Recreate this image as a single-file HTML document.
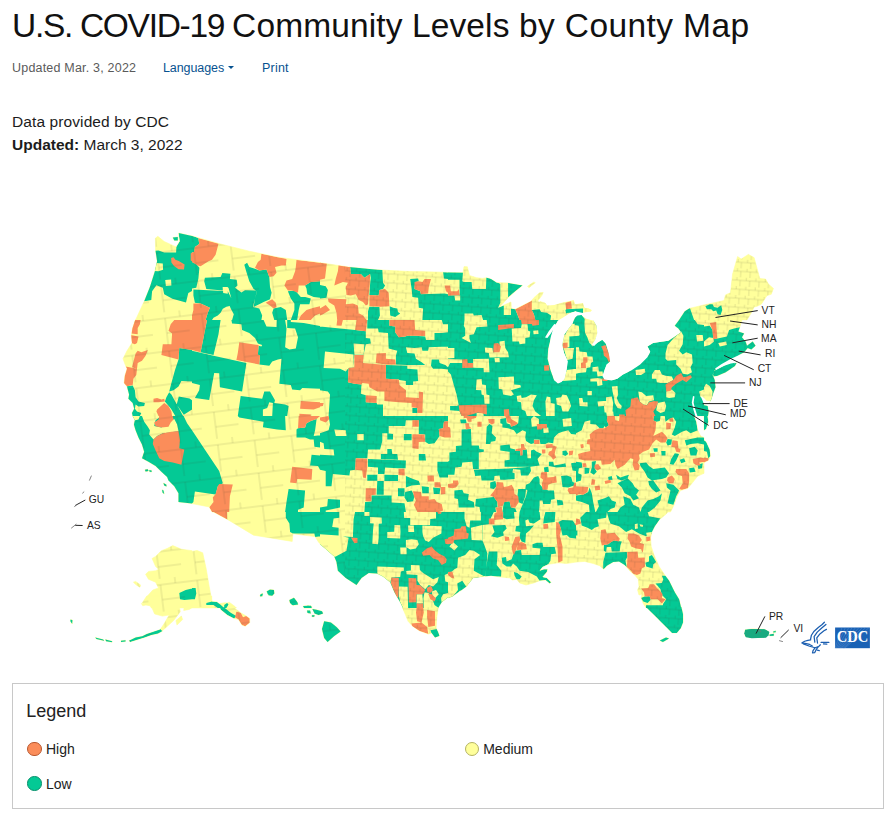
<!DOCTYPE html>
<html lang="en"><head><meta charset="utf-8"><title>U.S. COVID-19 Community Levels by County Map</title>
<style>
html,body{margin:0;padding:0;background:#fff;}
body{width:894px;height:814px;position:relative;overflow:hidden;font-family:"Liberation Sans",sans-serif;color:#1a1a1a;}
.abs{position:absolute;white-space:nowrap;}
h1{margin:0;font-weight:400;font-size:33.5px;line-height:40px;left:12px;top:6px;color:#111;}
.meta{font-size:12.5px;line-height:16px;top:60px;}
.meta.g{color:#5a5a5a;left:12px;letter-spacing:.2px}
.meta.b{color:#075290;letter-spacing:.2px}
.caret{position:absolute;left:228px;top:66px;width:0;height:0;border-left:3px solid transparent;border-right:3px solid transparent;border-top:3.5px solid #075290;}
.p{font-size:15.5px;line-height:23px;left:12px;color:#1c1c1c;letter-spacing:.1px}
.legend{position:absolute;left:12px;top:683px;width:870px;height:124px;border:1px solid #c8c8c8;background:#fff;}
.legend .t{position:absolute;left:13.3px;top:15.6px;font-size:18px;line-height:22px;color:#222;}
.li{position:absolute;font-size:14px;line-height:16px;color:#222;white-space:nowrap}
.dot{position:absolute;width:12.6px;height:12.6px;border-radius:50%;border:1px solid;}
</style></head><body>
<h1 class="abs"><span style="letter-spacing:-1.3px">U.S. COVID-19 </span><span style="letter-spacing:.12px">Community Levels </span><span style="letter-spacing:.4px">by County Map</span></h1>
<div class="abs meta g">Updated Mar. 3, 2022</div>
<div class="abs meta b" style="left:163px;letter-spacing:-.08px">Languages</div><i class="caret"></i>
<div class="abs meta b" style="left:262px">Print</div>
<div class="abs p" style="top:110px">Data provided by CDC</div>
<div class="abs p" style="top:132.6px;letter-spacing:0"><b>Updated:</b> March 3, 2022</div>
<svg class="abs" style="left:0;top:0" width="894" height="680" viewBox="0 0 894 680">
<defs><clipPath id="land"><path d="M192.0,319.9L135.6,319.9L144.2,301.3L149.9,287.0L154.9,271.3L157.1,261.2L155.6,251.2L155.4,238.3L157.8,236.3L164.2,241.5L176.1,246.9L177.1,245.5L179.7,241.2L178.5,233.0L192.0,236.0ZM172.8,237.6L177.8,236.9L177.8,240.5L174.3,240.5ZM192.0,320.0L192.0,415.9L132.7,415.9L132.0,413.1L134.2,408.8L132.7,403.0L128.4,398.8L129.1,394.5L127.0,386.6L124.1,383.0L124.9,375.8L127.0,368.7L125.6,365.8L123.0,358.7L127.0,350.8L132.0,342.9L131.3,335.8L132.4,328.6L135.2,320.0ZM192.0,416.0L192.0,503.6L178.5,501.9L178.5,493.3L174.3,486.2L168.5,480.4L167.1,476.9L161.4,471.8L155.6,466.1L148.5,461.8L142.0,458.2L144.2,451.8L142.0,444.6L138.5,437.5L135.6,430.3L133.9,424.6L134.9,420.3L132.7,416.0ZM144.9,469.7L147.8,469.3L148.5,471.1L145.6,471.6ZM149.2,470.1L151.6,470.4L151.6,472.1L149.6,471.8ZM163.5,483.0L166.4,484.7L166.4,486.4L164.2,485.4ZM162.1,489.7L163.5,490.5L164.2,494.0L162.5,492.6ZM192.0,607.9L151.3,607.9L148.5,602.2L147.0,596.5L152.8,590.0L158.5,587.9L155.6,582.2L148.5,579.3L145.6,574.3L148.5,571.4L155.6,570.7L158.5,569.3L155.6,566.4L152.1,558.5L155.6,556.4L161.4,550.7L167.1,548.5L172.8,545.6L181.4,549.2L192.0,550.7ZM133.4,582.2L135.6,581.4L140.6,585.0L139.9,587.2L136.3,585.0ZM141.3,603.6L144.9,602.5L145.6,605.1L142.8,605.8ZM146.8,596.0L211.7,596.0L211.7,602.7L206.1,603.8L198.2,606.1L196.0,604.9L189.3,609.4L183.7,610.5L184.8,602.7L179.2,606.1L180.3,611.7L173.6,620.6L162.4,630.7L160.2,629.6L164.7,622.8L169.1,615.0L162.4,616.1L154.6,613.9L151.2,606.1L145.7,604.9L142.3,602.7ZM218.4,603.8L225.1,602.7L229.5,603.8L236.3,609.4L240.7,612.8L246.3,616.1L249.7,618.4L249.7,622.8L245.2,626.2L241.9,625.1L238.5,619.5L234.0,618.4L227.3,615.0L220.6,609.4ZM162.4,631.1L158.0,633.6L151.2,635.1L144.5,637.4L137.8,639.6L130.0,641.9L128.9,640.7L135.6,637.4L142.3,636.3L146.8,634.0L153.5,631.8L160.2,629.6ZM95.3,637.4L103.1,639.6L104.3,640.7L96.4,639.0ZM105.4,639.6L112.1,641.2L112.1,642.3L106.1,641.2ZM121.0,640.7L125.5,640.3L125.5,641.6L121.0,641.9ZM70.7,619.5L72.5,620.2L72.1,624.0L70.3,621.1ZM175.9,620.6L181.4,616.1L182.6,619.5L177.0,625.1ZM192.0,236.0L220.6,244.0L249.3,251.2L277.9,257.2L306.5,260.9L320.0,262.7L320.0,319.9L192.0,319.9ZM192.0,320.0L320.0,320.0L320.0,415.9L192.0,415.9ZM192.0,416.0L320.0,416.0L320.0,511.9L212.0,511.9L209.2,506.9L192.0,503.6ZM320.0,512.0L320.0,543.2L318.7,542.4L315.1,536.6L292.9,533.8L292.2,541.4L253.6,535.2L227.1,519.2L213.5,512.0ZM192.0,551.4L197.0,550.4L202.7,552.8L206.3,569.3L209.2,586.5L212.0,601.5L217.1,601.9L220.6,604.8L224.2,607.9L192.0,607.9ZM225.6,603.6L229.2,602.2L235.0,606.5L236.4,607.9L224.9,607.9ZM260.0,595.0L262.2,593.6L262.9,594.8L260.7,596.5ZM266.7,591.5L270.0,589.6L273.9,590.0L274.3,593.6L272.2,595.8L268.6,595.3ZM289.4,600.1L293.7,597.9L295.8,601.5L298.0,604.4L292.2,605.1L290.1,602.9ZM303.7,606.5L308.0,605.8L311.6,606.5L311.6,607.9L303.7,607.9ZM260.5,594.5L262.7,593.4L262.3,596.3L260.0,596.3ZM267.2,591.1L270.5,590.0L273.9,591.1L273.4,594.5L270.5,595.6L267.6,594.0ZM289.6,600.1L294.0,597.8L297.4,602.3L298.1,604.5L292.9,605.2L290.0,602.3ZM303.0,606.1L310.8,605.7L311.9,607.9L304.1,607.9ZM307.0,610.6L310.1,610.6L310.8,613.5L307.5,613.0ZM312.4,609.0L316.4,609.7L322.0,611.3L323.1,613.5L318.6,615.1L314.6,613.5ZM311.9,615.3L314.6,615.3L314.2,616.8L311.9,616.8ZM324.2,621.3L330.9,622.4L336.5,626.9L340.6,631.4L334.3,635.9L327.6,641.9L324.2,638.1L322.0,629.1ZM438.3,607.9L436.8,616.8L436.1,628.0L438.3,632.5L439.4,635.9L435.0,637.4L431.6,633.0L428.3,634.1L419.3,630.7L412.6,626.2L408.1,621.3L405.4,614.6L402.5,607.9ZM320.0,262.7L348.6,267.0L377.3,269.8L405.9,271.3L434.5,272.0L448.0,272.4L448.0,319.9L320.0,319.9ZM320.0,320.0L448.0,320.0L448.0,415.9L320.0,415.9ZM320.0,416.0L448.0,416.0L448.0,511.9L320.0,511.9ZM320.0,512.0L448.0,512.0L448.0,597.2L441.7,602.2L438.1,607.9L403.0,607.9L400.2,602.2L394.5,592.2L390.2,582.2L383.0,576.4L377.3,573.6L368.7,572.9L361.5,577.9L356.5,585.0L345.8,577.9L337.9,570.7L336.5,562.1L334.3,556.4L324.3,547.8L320.0,544.2ZM448.0,272.4L463.0,272.7L464.0,266.7L467.3,266.7L469.5,275.5L476.6,277.7L482.4,278.4L486.7,277.7L491.0,279.1L496.7,282.7L508.1,283.0L522.5,285.6L515.3,291.3L508.1,297.7L501.0,305.6L498.1,307.8L505.3,304.5L511.0,302.0L511.3,308.5L515.3,309.2L522.5,305.6L531.0,301.3L533.9,297.7L539.6,292.7L543.2,292.4L541.8,295.6L537.5,301.3L539.6,302.0L546.8,302.8L551.1,307.0L556.8,306.3L562.5,303.5L571.1,301.3L574.0,300.6L576.0,302.0L576.0,309.9L569.7,312.1L568.3,315.6L569.7,319.9L562.5,319.9L561.1,316.4L556.8,317.8L555.4,319.9L448.0,319.9ZM527.5,286.3L533.9,282.0L535.3,282.7L528.9,287.7ZM448.0,320.0L552.5,320.0L548.2,330.0L545.1,336.0L546.8,337.5L551.8,329.3L554.7,325.0L551.1,337.2L548.2,348.6L547.5,358.7L550.4,370.1L554.0,380.1L558.3,383.3L564.0,380.1L566.8,370.1L567.1,360.1L563.7,348.6L562.5,341.5L565.4,334.3L569.7,327.2L574.0,324.3L576.0,323.2L576.0,415.9L448.0,415.9ZM448.0,416.0L576.0,416.0L576.0,511.9L448.0,511.9ZM448.0,512.0L576.0,512.0L576.0,562.1L566.8,563.5L558.3,562.8L548.2,564.3L542.5,567.1L539.6,570.7L543.9,569.3L547.5,569.3L546.8,572.1L542.5,577.1L546.8,577.9L551.1,582.2L549.7,583.6L545.4,580.0L539.6,580.7L533.9,582.9L526.0,585.0L519.6,582.9L516.7,579.3L512.4,580.0L509.6,577.9L501.0,577.1L491.0,575.7L483.8,576.4L473.1,577.9L470.9,580.7L466.6,586.5L459.5,591.5L452.3,596.5L448.0,597.9ZM576.0,304.9L583.2,303.0L584.6,308.5L591.0,309.2L591.5,311.3L586.0,311.6L581.7,313.5L582.4,317.1L589.6,319.9L576.0,319.9ZM679.1,319.9L684.8,311.3L689.1,308.5L704.0,304.9L704.0,319.9ZM576.0,320.0L593.2,320.0L596.8,327.2L597.5,334.3L594.6,341.5L592.5,345.8L597.5,342.9L602.5,340.0L605.4,342.9L608.2,351.5L610.4,358.7L608.9,363.0L606.8,364.4L604.6,370.1L603.2,375.8L606.8,378.0L613.2,380.1L621.8,377.3L630.4,370.1L637.6,365.8L644.7,358.7L650.5,352.9L647.6,346.5L653.3,342.9L661.9,341.5L667.6,341.5L676.2,335.8L681.2,332.2L678.4,328.6L674.8,325.7L679.1,320.0L704.0,320.0L704.0,415.9L576.0,415.9ZM576.0,416.0L694.1,416.0L696.3,421.7L697.7,430.3L700.6,436.0L704.0,437.5L704.0,473.3L697.7,476.1L692.0,483.3L687.7,488.3L680.5,490.5L676.9,496.2L674.1,504.8L670.5,511.9L576.0,511.9ZM576.0,512.0L667.6,512.0L666.2,514.1L659.8,519.2L654.8,526.3L651.9,532.0L650.5,537.8L651.2,546.4L654.0,555.0L659.0,566.4L664.8,575.0L669.1,580.7L674.8,592.2L679.1,599.3L681.2,607.9L646.2,607.9L643.3,603.6L641.1,597.9L641.9,594.3L639.0,595.0L637.6,590.0L639.0,586.5L638.3,579.3L634.7,575.0L630.4,571.4L624.7,565.0L619.0,561.4L613.2,562.1L606.8,565.7L603.9,569.3L599.6,565.7L593.2,563.5L584.6,561.4L576.0,562.1ZM681.3,606.9L683.1,614.5L683.1,622.2L680.7,628.3L676.7,632.9L672.1,632.9L667.5,628.3L661.4,622.2L656.8,617.6L650.6,611.5L646.0,606.9ZM659.8,640.6L666.0,637.5L669.0,638.4L662.9,642.1ZM745.0,629.8L751.8,628.9L764.0,629.2L768.6,631.4L767.7,635.4L762.5,637.5L750.2,637.5L745.0,636.0ZM769.6,634.4L773.8,633.8L773.8,635.7L769.6,636.0ZM773.2,631.4L775.7,630.8L775.7,632.3L773.2,632.6ZM704.0,304.9L724.0,300.6L725.5,294.9L730.5,292.7L732.6,274.1L737.6,256.6L741.2,259.1L748.4,254.4L754.1,257.6L759.8,278.4L765.6,279.1L768.4,284.1L773.4,288.4L771.3,294.2L767.0,295.6L764.1,299.9L761.3,304.2L757.0,306.3L754.1,307.0L751.3,312.8L747.0,319.9L704.0,319.9ZM704.0,320.0L741.9,320.0L739.8,327.2L738.4,331.5L744.1,333.6L741.9,337.2L745.5,341.5L747.0,345.8L752.7,341.5L755.5,345.8L751.3,349.4L747.7,347.9L744.1,352.2L739.8,354.4L736.2,357.9L731.2,361.5L725.5,364.4L718.3,368.0L714.7,370.1L712.6,375.1L714.7,380.1L715.5,387.3L713.3,393.0L711.2,399.5L709.0,403.0L704.0,402.8ZM716.2,369.4L729.8,363.0L735.8,361.1L732.6,366.1L725.5,371.1L718.3,374.0L712.9,375.1L714.0,371.5ZM704.0,405.2L707.6,405.9L708.6,411.6L708.0,415.9L704.0,415.9ZM704.0,416.0L707.6,416.0L708.3,421.7L706.1,428.9L704.0,430.3ZM704.0,440.3L706.1,441.8L709.7,449.6L710.4,456.1L708.3,460.4L704.0,462.5ZM540.0,301.5L545.7,303.6L547.2,305.8L554.3,305.0L561.5,302.9L573.6,300.3L575.1,304.3L583.0,303.2L584.4,307.9L588.7,308.6L591.8,310.0L590.8,311.5L583.0,312.5L575.8,311.2L572.2,312.2L569.4,313.6L565.8,315.8L561.5,318.6L557.9,320.8L555.8,324.4L552.9,330.1L550.7,337.3L548.6,347.3L540.0,347.3ZM564.3,334.4L568.6,328.4L570.8,325.8L572.6,323.2L574.4,317.9L577.5,315.5L581.5,315.1L585.8,318.6L593.7,320.8L596.6,325.8L597.3,333.0L595.1,340.1L591.8,344.7L594.1,346.1L597.3,342.7L602.3,339.8L605.9,343.7L608.7,353.0L610.2,361.6L606.6,364.5L604.4,370.2L602.4,375.9L604.4,379.5L611.6,380.5L617.3,378.8L623.0,374.5L631.6,370.2L640.2,364.5L647.4,357.3L650.3,351.6L647.4,346.6L653.1,343.0L663.1,341.5L668.0,340.8L668.0,385.9L557.2,385.9L557.9,383.4L561.5,381.9L564.6,378.8L566.5,370.2L567.9,361.6L564.1,353.0L562.2,345.1ZM716.6,370.9L736.8,362.6L734.9,366.0L725.7,372.2L716.9,376.0L713.2,376.3L714.2,372.5Z"/></clipPath></defs>
<path fill="#ffff9b" stroke="#ffff9b" stroke-width="0.6" d="M192.0,319.9L135.6,319.9L144.2,301.3L149.9,287.0L154.9,271.3L157.1,261.2L155.6,251.2L155.4,238.3L157.8,236.3L164.2,241.5L176.1,246.9L177.1,245.5L179.7,241.2L178.5,233.0L192.0,236.0ZM172.8,237.6L177.8,236.9L177.8,240.5L174.3,240.5ZM192.0,320.0L192.0,415.9L132.7,415.9L132.0,413.1L134.2,408.8L132.7,403.0L128.4,398.8L129.1,394.5L127.0,386.6L124.1,383.0L124.9,375.8L127.0,368.7L125.6,365.8L123.0,358.7L127.0,350.8L132.0,342.9L131.3,335.8L132.4,328.6L135.2,320.0ZM192.0,416.0L192.0,503.6L178.5,501.9L178.5,493.3L174.3,486.2L168.5,480.4L167.1,476.9L161.4,471.8L155.6,466.1L148.5,461.8L142.0,458.2L144.2,451.8L142.0,444.6L138.5,437.5L135.6,430.3L133.9,424.6L134.9,420.3L132.7,416.0ZM144.9,469.7L147.8,469.3L148.5,471.1L145.6,471.6ZM149.2,470.1L151.6,470.4L151.6,472.1L149.6,471.8ZM163.5,483.0L166.4,484.7L166.4,486.4L164.2,485.4ZM162.1,489.7L163.5,490.5L164.2,494.0L162.5,492.6ZM192.0,607.9L151.3,607.9L148.5,602.2L147.0,596.5L152.8,590.0L158.5,587.9L155.6,582.2L148.5,579.3L145.6,574.3L148.5,571.4L155.6,570.7L158.5,569.3L155.6,566.4L152.1,558.5L155.6,556.4L161.4,550.7L167.1,548.5L172.8,545.6L181.4,549.2L192.0,550.7ZM133.4,582.2L135.6,581.4L140.6,585.0L139.9,587.2L136.3,585.0ZM141.3,603.6L144.9,602.5L145.6,605.1L142.8,605.8ZM146.8,596.0L211.7,596.0L211.7,602.7L206.1,603.8L198.2,606.1L196.0,604.9L189.3,609.4L183.7,610.5L184.8,602.7L179.2,606.1L180.3,611.7L173.6,620.6L162.4,630.7L160.2,629.6L164.7,622.8L169.1,615.0L162.4,616.1L154.6,613.9L151.2,606.1L145.7,604.9L142.3,602.7ZM218.4,603.8L225.1,602.7L229.5,603.8L236.3,609.4L240.7,612.8L246.3,616.1L249.7,618.4L249.7,622.8L245.2,626.2L241.9,625.1L238.5,619.5L234.0,618.4L227.3,615.0L220.6,609.4ZM162.4,631.1L158.0,633.6L151.2,635.1L144.5,637.4L137.8,639.6L130.0,641.9L128.9,640.7L135.6,637.4L142.3,636.3L146.8,634.0L153.5,631.8L160.2,629.6ZM95.3,637.4L103.1,639.6L104.3,640.7L96.4,639.0ZM105.4,639.6L112.1,641.2L112.1,642.3L106.1,641.2ZM121.0,640.7L125.5,640.3L125.5,641.6L121.0,641.9ZM70.7,619.5L72.5,620.2L72.1,624.0L70.3,621.1ZM175.9,620.6L181.4,616.1L182.6,619.5L177.0,625.1ZM192.0,236.0L220.6,244.0L249.3,251.2L277.9,257.2L306.5,260.9L320.0,262.7L320.0,319.9L192.0,319.9ZM192.0,320.0L320.0,320.0L320.0,415.9L192.0,415.9ZM192.0,416.0L320.0,416.0L320.0,511.9L212.0,511.9L209.2,506.9L192.0,503.6ZM320.0,512.0L320.0,543.2L318.7,542.4L315.1,536.6L292.9,533.8L292.2,541.4L253.6,535.2L227.1,519.2L213.5,512.0ZM192.0,551.4L197.0,550.4L202.7,552.8L206.3,569.3L209.2,586.5L212.0,601.5L217.1,601.9L220.6,604.8L224.2,607.9L192.0,607.9ZM225.6,603.6L229.2,602.2L235.0,606.5L236.4,607.9L224.9,607.9ZM260.0,595.0L262.2,593.6L262.9,594.8L260.7,596.5ZM266.7,591.5L270.0,589.6L273.9,590.0L274.3,593.6L272.2,595.8L268.6,595.3ZM289.4,600.1L293.7,597.9L295.8,601.5L298.0,604.4L292.2,605.1L290.1,602.9ZM303.7,606.5L308.0,605.8L311.6,606.5L311.6,607.9L303.7,607.9ZM260.5,594.5L262.7,593.4L262.3,596.3L260.0,596.3ZM267.2,591.1L270.5,590.0L273.9,591.1L273.4,594.5L270.5,595.6L267.6,594.0ZM289.6,600.1L294.0,597.8L297.4,602.3L298.1,604.5L292.9,605.2L290.0,602.3ZM303.0,606.1L310.8,605.7L311.9,607.9L304.1,607.9ZM307.0,610.6L310.1,610.6L310.8,613.5L307.5,613.0ZM312.4,609.0L316.4,609.7L322.0,611.3L323.1,613.5L318.6,615.1L314.6,613.5ZM311.9,615.3L314.6,615.3L314.2,616.8L311.9,616.8ZM324.2,621.3L330.9,622.4L336.5,626.9L340.6,631.4L334.3,635.9L327.6,641.9L324.2,638.1L322.0,629.1ZM438.3,607.9L436.8,616.8L436.1,628.0L438.3,632.5L439.4,635.9L435.0,637.4L431.6,633.0L428.3,634.1L419.3,630.7L412.6,626.2L408.1,621.3L405.4,614.6L402.5,607.9ZM320.0,262.7L348.6,267.0L377.3,269.8L405.9,271.3L434.5,272.0L448.0,272.4L448.0,319.9L320.0,319.9ZM320.0,320.0L448.0,320.0L448.0,415.9L320.0,415.9ZM320.0,416.0L448.0,416.0L448.0,511.9L320.0,511.9ZM320.0,512.0L448.0,512.0L448.0,597.2L441.7,602.2L438.1,607.9L403.0,607.9L400.2,602.2L394.5,592.2L390.2,582.2L383.0,576.4L377.3,573.6L368.7,572.9L361.5,577.9L356.5,585.0L345.8,577.9L337.9,570.7L336.5,562.1L334.3,556.4L324.3,547.8L320.0,544.2ZM448.0,272.4L463.0,272.7L464.0,266.7L467.3,266.7L469.5,275.5L476.6,277.7L482.4,278.4L486.7,277.7L491.0,279.1L496.7,282.7L508.1,283.0L522.5,285.6L515.3,291.3L508.1,297.7L501.0,305.6L498.1,307.8L505.3,304.5L511.0,302.0L511.3,308.5L515.3,309.2L522.5,305.6L531.0,301.3L533.9,297.7L539.6,292.7L543.2,292.4L541.8,295.6L537.5,301.3L539.6,302.0L546.8,302.8L551.1,307.0L556.8,306.3L562.5,303.5L571.1,301.3L574.0,300.6L576.0,302.0L576.0,309.9L569.7,312.1L568.3,315.6L569.7,319.9L562.5,319.9L561.1,316.4L556.8,317.8L555.4,319.9L448.0,319.9ZM527.5,286.3L533.9,282.0L535.3,282.7L528.9,287.7ZM448.0,320.0L552.5,320.0L548.2,330.0L545.1,336.0L546.8,337.5L551.8,329.3L554.7,325.0L551.1,337.2L548.2,348.6L547.5,358.7L550.4,370.1L554.0,380.1L558.3,383.3L564.0,380.1L566.8,370.1L567.1,360.1L563.7,348.6L562.5,341.5L565.4,334.3L569.7,327.2L574.0,324.3L576.0,323.2L576.0,415.9L448.0,415.9ZM448.0,416.0L576.0,416.0L576.0,511.9L448.0,511.9ZM448.0,512.0L576.0,512.0L576.0,562.1L566.8,563.5L558.3,562.8L548.2,564.3L542.5,567.1L539.6,570.7L543.9,569.3L547.5,569.3L546.8,572.1L542.5,577.1L546.8,577.9L551.1,582.2L549.7,583.6L545.4,580.0L539.6,580.7L533.9,582.9L526.0,585.0L519.6,582.9L516.7,579.3L512.4,580.0L509.6,577.9L501.0,577.1L491.0,575.7L483.8,576.4L473.1,577.9L470.9,580.7L466.6,586.5L459.5,591.5L452.3,596.5L448.0,597.9ZM576.0,304.9L583.2,303.0L584.6,308.5L591.0,309.2L591.5,311.3L586.0,311.6L581.7,313.5L582.4,317.1L589.6,319.9L576.0,319.9ZM679.1,319.9L684.8,311.3L689.1,308.5L704.0,304.9L704.0,319.9ZM576.0,320.0L593.2,320.0L596.8,327.2L597.5,334.3L594.6,341.5L592.5,345.8L597.5,342.9L602.5,340.0L605.4,342.9L608.2,351.5L610.4,358.7L608.9,363.0L606.8,364.4L604.6,370.1L603.2,375.8L606.8,378.0L613.2,380.1L621.8,377.3L630.4,370.1L637.6,365.8L644.7,358.7L650.5,352.9L647.6,346.5L653.3,342.9L661.9,341.5L667.6,341.5L676.2,335.8L681.2,332.2L678.4,328.6L674.8,325.7L679.1,320.0L704.0,320.0L704.0,415.9L576.0,415.9ZM576.0,416.0L694.1,416.0L696.3,421.7L697.7,430.3L700.6,436.0L704.0,437.5L704.0,473.3L697.7,476.1L692.0,483.3L687.7,488.3L680.5,490.5L676.9,496.2L674.1,504.8L670.5,511.9L576.0,511.9ZM576.0,512.0L667.6,512.0L666.2,514.1L659.8,519.2L654.8,526.3L651.9,532.0L650.5,537.8L651.2,546.4L654.0,555.0L659.0,566.4L664.8,575.0L669.1,580.7L674.8,592.2L679.1,599.3L681.2,607.9L646.2,607.9L643.3,603.6L641.1,597.9L641.9,594.3L639.0,595.0L637.6,590.0L639.0,586.5L638.3,579.3L634.7,575.0L630.4,571.4L624.7,565.0L619.0,561.4L613.2,562.1L606.8,565.7L603.9,569.3L599.6,565.7L593.2,563.5L584.6,561.4L576.0,562.1ZM681.3,606.9L683.1,614.5L683.1,622.2L680.7,628.3L676.7,632.9L672.1,632.9L667.5,628.3L661.4,622.2L656.8,617.6L650.6,611.5L646.0,606.9ZM659.8,640.6L666.0,637.5L669.0,638.4L662.9,642.1ZM745.0,629.8L751.8,628.9L764.0,629.2L768.6,631.4L767.7,635.4L762.5,637.5L750.2,637.5L745.0,636.0ZM769.6,634.4L773.8,633.8L773.8,635.7L769.6,636.0ZM773.2,631.4L775.7,630.8L775.7,632.3L773.2,632.6ZM704.0,304.9L724.0,300.6L725.5,294.9L730.5,292.7L732.6,274.1L737.6,256.6L741.2,259.1L748.4,254.4L754.1,257.6L759.8,278.4L765.6,279.1L768.4,284.1L773.4,288.4L771.3,294.2L767.0,295.6L764.1,299.9L761.3,304.2L757.0,306.3L754.1,307.0L751.3,312.8L747.0,319.9L704.0,319.9ZM704.0,320.0L741.9,320.0L739.8,327.2L738.4,331.5L744.1,333.6L741.9,337.2L745.5,341.5L747.0,345.8L752.7,341.5L755.5,345.8L751.3,349.4L747.7,347.9L744.1,352.2L739.8,354.4L736.2,357.9L731.2,361.5L725.5,364.4L718.3,368.0L714.7,370.1L712.6,375.1L714.7,380.1L715.5,387.3L713.3,393.0L711.2,399.5L709.0,403.0L704.0,402.8ZM716.2,369.4L729.8,363.0L735.8,361.1L732.6,366.1L725.5,371.1L718.3,374.0L712.9,375.1L714.0,371.5ZM704.0,405.2L707.6,405.9L708.6,411.6L708.0,415.9L704.0,415.9ZM704.0,416.0L707.6,416.0L708.3,421.7L706.1,428.9L704.0,430.3ZM704.0,440.3L706.1,441.8L709.7,449.6L710.4,456.1L708.3,460.4L704.0,462.5ZM540.0,301.5L545.7,303.6L547.2,305.8L554.3,305.0L561.5,302.9L573.6,300.3L575.1,304.3L583.0,303.2L584.4,307.9L588.7,308.6L591.8,310.0L590.8,311.5L583.0,312.5L575.8,311.2L572.2,312.2L569.4,313.6L565.8,315.8L561.5,318.6L557.9,320.8L555.8,324.4L552.9,330.1L550.7,337.3L548.6,347.3L540.0,347.3ZM564.3,334.4L568.6,328.4L570.8,325.8L572.6,323.2L574.4,317.9L577.5,315.5L581.5,315.1L585.8,318.6L593.7,320.8L596.6,325.8L597.3,333.0L595.1,340.1L591.8,344.7L594.1,346.1L597.3,342.7L602.3,339.8L605.9,343.7L608.7,353.0L610.2,361.6L606.6,364.5L604.4,370.2L602.4,375.9L604.4,379.5L611.6,380.5L617.3,378.8L623.0,374.5L631.6,370.2L640.2,364.5L647.4,357.3L650.3,351.6L647.4,346.6L653.1,343.0L663.1,341.5L668.0,340.8L668.0,385.9L557.2,385.9L557.9,383.4L561.5,381.9L564.6,378.8L566.5,370.2L567.9,361.6L564.1,353.0L562.2,345.1ZM716.6,370.9L736.8,362.6L734.9,366.0L725.7,372.2L716.9,376.0L713.2,376.3L714.2,372.5Z"/>
<g clip-path="url(#land)">
<path fill="#04c995" d="M178.5,231.9L192.0,234.0L192.0,291.0L188.3,293.0L186.0,302.5L172.4,298.7L164.2,294.2L162.8,287.7L156.4,285.3L152.1,291.3L151.3,299.9L145.9,300.9L142.8,301.3L148.5,287.0L153.5,271.3L155.6,261.2L154.2,250.9L158.5,250.5L164.2,252.6L176.1,252.4L176.4,246.9L177.1,245.5L179.7,241.2ZM172.1,236.9L178.5,236.2L178.5,241.2L173.5,241.2ZM179.3,347.9L192.0,350.1L192.0,381.6L181.4,380.9L178.5,386.6L173.5,390.2L169.2,391.6L171.4,383.0L175.0,370.1L178.5,359.4ZM164.9,401.6L166.4,397.3L169.2,392.3L171.4,394.5L183.1,415.9L175.3,415.9L171.0,408.8ZM178.8,396.5L189.6,398.6L192.0,400.2L192.0,409.5L183.8,414.8L176.7,404.5ZM125.6,386.6L132.7,385.6L134.9,390.2L135.6,397.3L138.5,401.6L144.9,403.0L144.2,405.9L138.5,406.6L135.6,404.5L134.9,408.8L137.0,411.6L141.3,413.1L139.9,415.9L131.3,415.9L130.6,413.1L132.7,408.8L131.3,403.0L127.0,398.8L127.7,394.5ZM121.3,416.0L192.0,416.0L192.0,511.9L121.3,511.9ZM179.3,592.9L185.7,590.0L192.0,588.6L192.0,599.3L184.3,600.1L180.0,599.3ZM218.4,603.8L225.1,608.3L230.7,612.8L236.3,616.1L234.0,618.4L227.3,615.0L220.6,609.4ZM162.9,631.6L158.0,634.0L151.2,635.6L144.5,637.8L137.8,640.1L130.0,642.3L128.9,640.3L135.6,636.9L142.3,635.8L146.8,633.6L153.5,631.3L160.2,629.1ZM93.1,636.3L126.6,638.5L126.6,643.0L93.1,641.9ZM69.6,618.4L72.9,619.5L72.9,624.6L69.6,621.7ZM192.0,235.5L198.4,238.3L199.2,244.0L194.9,246.9L194.1,251.9L192.0,252.6ZM192.0,261.9L196.3,264.1L199.4,267.7L198.4,278.4L196.3,287.7L192.0,288.4ZM244.3,264.8L247.1,262.7L249.3,267.0L255.0,268.7L259.3,270.5L266.5,269.5L269.3,277.0L270.0,287.0L271.6,292.7L270.0,299.2L263.6,302.0L260.7,303.5L253.6,307.0L255.0,298.5L257.1,291.3L253.6,289.1L249.3,281.3L246.4,272.0ZM228.5,287.7L229.9,279.1L236.7,279.8L237.5,285.6L235.0,287.7L241.4,292.4L245.0,290.2L257.1,290.6L255.0,298.5L252.9,307.0L259.3,308.5L262.2,315.6L261.4,319.9L232.1,319.9L233.8,314.2L230.7,308.5L229.5,305.6L231.4,298.5ZM204.9,277.7L220.6,277.0L222.4,273.0L230.4,273.7L229.9,279.1L228.5,287.7L222.8,287.0L222.8,290.6L206.3,289.1L204.2,281.3ZM193.4,289.6L227.8,291.3L231.4,298.5L229.5,305.9L226.4,306.8L222.8,308.8L220.6,312.8L217.8,315.6L213.5,317.8L212.0,319.9L205.6,319.9L207.8,312.8L209.9,307.8L200.6,303.5L194.9,302.8L193.4,295.6ZM287.9,291.3L295.1,290.6L300.8,297.0L305.1,297.0L310.8,298.5L309.4,304.2L300.1,304.2L298.7,309.9L297.2,319.9L290.8,319.9L294.4,309.9L294.4,303.5L290.8,298.5ZM305.1,285.6L310.8,282.0L320.0,281.3L320.0,297.7L313.7,297.0L307.3,294.2L306.5,288.4ZM273.6,308.5L280.8,307.0L285.8,309.9L287.2,319.9L274.3,319.9L272.2,312.8ZM207.0,320.0L220.6,320.0L218.5,334.3L213.5,355.1L200.6,352.2ZM192.0,350.8L213.5,355.8L246.4,363.0L242.1,391.6L219.9,387.3L219.2,373.3L214.2,373.0L209.2,399.9L194.9,398.0L199.2,390.2L199.9,385.1L192.0,383.0ZM231.4,320.0L263.6,320.0L266.5,326.4L276.5,326.9L276.8,320.0L285.1,320.0L286.5,328.6L285.1,347.2L281.5,358.7L277.9,359.4L272.2,361.5L269.3,365.8L259.3,364.4L260.0,355.8L257.9,354.4L258.6,345.8L261.4,346.5L262.2,345.1L257.9,343.6L255.0,337.9L249.3,332.9L242.1,330.0L241.4,324.3L232.1,323.6ZM287.2,320.0L290.8,320.0L290.8,322.1L303.7,322.9L320.0,326.0L320.0,388.7L302.3,388.0L300.1,390.2L292.2,389.4L290.8,385.1L279.3,383.7L281.5,358.7L285.1,347.2L289.4,349.4L295.8,348.6L298.0,337.2L295.1,328.6L287.2,327.9ZM240.7,395.9L262.2,398.8L264.3,391.6L270.0,391.6L275.0,400.2L274.3,403.0L285.1,404.5L288.6,405.9L287.2,415.9L272.2,415.9L272.9,403.0L269.3,402.3L267.2,408.1L262.9,409.5L262.9,415.9L237.8,415.9ZM192.0,430.3L206.3,451.8L219.2,471.1L222.8,483.3L217.8,486.2L215.6,494.5L194.9,491.6L193.4,501.9L192.0,503.6ZM237.8,416.0L285.1,416.0L285.8,430.3L277.2,429.6L262.9,427.2L263.6,421.7L255.0,420.3L239.3,417.4ZM298.0,428.2L305.1,427.5L306.5,423.2L310.8,421.0L316.6,418.9L315.1,430.3L313.7,436.0L320.0,435.3L320.0,447.5L314.4,446.8L313.7,439.6L310.1,439.6L305.1,437.5L296.5,437.5L296.5,429.6ZM311.6,454.7L320.0,455.4L320.0,469.7L318.0,466.1L310.1,465.4ZM288.6,489.0L305.1,490.5L303.7,507.6L298.0,509.8L298.0,511.9L285.1,511.9L286.5,501.9ZM285.8,512.0L320.0,512.0L320.0,536.3L315.1,537.1L314.4,533.5L292.9,533.5L290.1,532.0L289.4,523.5L285.8,517.7ZM192.0,587.9L195.6,587.9L196.3,593.6L194.9,599.3L192.0,599.3ZM206.3,602.9L212.0,601.5L217.1,601.9L220.6,604.8L224.2,607.9L217.8,607.9L213.5,605.1L206.3,605.1ZM224.2,605.1L227.1,602.9L228.5,604.4L226.4,607.9L224.2,607.9ZM259.3,589.3L275.0,589.3L275.0,597.2L259.3,597.2ZM288.6,597.2L298.7,597.2L298.7,605.8L288.6,605.8ZM303.0,605.1L312.3,605.1L312.3,607.9L303.0,607.9ZM258.2,590.0L345.5,590.0L345.5,643.7L258.2,643.7ZM430.5,630.3L437.2,629.1L439.9,635.9L435.0,637.9L431.6,633.4ZM350.1,266.2L370.1,268.4L382.3,269.5L383.0,282.7L385.1,285.6L383.0,289.1L379.4,289.9L378.7,295.6L369.4,294.9L370.1,284.1L370.8,277.7L370.1,274.1L364.4,277.7L360.8,274.1L350.8,274.1ZM320.0,284.9L325.7,286.3L327.9,289.9L326.4,297.7L320.0,298.5ZM410.2,279.1L418.1,278.4L418.8,281.3L415.2,282.0L414.5,289.1L420.2,291.3L420.9,294.2L444.6,293.4L448.0,294.2L448.0,319.9L422.4,319.9L423.1,308.5L418.8,307.8L418.1,297.7L412.4,297.0L411.6,288.4ZM443.1,272.0L448.0,272.3L448.0,279.1L443.9,278.4ZM369.4,306.8L379.4,307.0L379.9,315.6L378.0,319.9L368.0,319.9L368.0,311.3ZM389.7,306.3L393.0,307.8L397.3,308.5L398.0,312.1L400.2,313.5L395.2,317.1L390.2,315.6ZM320.0,326.4L355.1,330.0L365.8,331.2L365.8,337.9L370.1,338.6L370.8,343.6L365.8,344.3L364.4,350.8L363.7,354.4L354.4,354.4L353.6,363.0L354.4,367.3L348.6,368.0L347.9,382.3L354.4,383.7L361.5,384.4L360.8,393.7L365.8,395.2L365.8,402.3L376.6,403.0L377.3,404.5L383.0,404.5L383.0,415.9L328.6,415.9L330.0,394.5L327.9,391.6L320.0,390.2ZM367.3,320.0L389.4,320.0L389.4,325.7L395.2,326.4L395.2,332.2L398.8,337.2L405.2,336.5L407.3,335.8L414.5,335.8L425.2,336.5L426.0,340.0L434.5,340.0L434.5,332.9L441.7,332.9L448.0,332.2L448.0,346.5L428.8,347.2L428.1,350.8L422.4,350.8L421.7,347.2L414.5,347.9L405.9,347.2L397.3,350.8L388.7,348.6L388.0,332.9L378.7,332.2L378.0,328.6L367.3,328.6ZM397.3,350.8L405.9,347.2L407.3,352.9L414.5,353.6L415.9,358.7L421.7,362.2L425.2,365.1L407.3,365.1L395.9,364.4L395.9,355.8ZM385.9,365.1L407.3,365.8L407.3,368.7L417.4,369.4L418.1,380.9L413.1,381.6L413.1,385.1L405.9,385.1L405.9,380.9L399.5,380.1L398.8,379.4L385.9,378.7ZM431.7,359.4L438.8,359.4L439.6,363.0L445.3,365.1L448.0,367.3L448.0,369.4L441.7,368.7L433.1,368.7L431.0,365.8ZM412.4,408.1L417.4,408.1L417.4,413.1L412.4,413.1ZM441.7,320.0L448.0,320.0L448.0,324.3L443.1,324.3ZM328.6,416.0L382.3,416.0L382.3,441.1L380.1,449.6L368.0,449.6L367.3,458.2L355.8,458.2L355.1,469.7L350.1,470.4L349.4,475.4L332.9,474.0L331.5,486.2L325.7,486.2L325.7,471.1L320.0,469.7L320.0,454.7L334.3,455.4L333.6,449.6L324.3,448.9L323.6,443.2L320.0,441.8L320.0,433.2L328.6,430.3L330.0,424.6ZM382.3,416.0L448.0,416.0L448.0,421.0L443.9,421.7L443.1,428.2L438.8,428.9L439.6,436.0L434.5,443.2L428.8,443.9L425.2,441.8L425.2,434.6L418.8,433.9L418.8,420.3L411.6,420.3L405.9,420.3L405.2,426.0L388.7,426.0L388.7,433.2L382.3,433.2ZM387.3,433.2L393.0,433.9L393.0,439.6L387.3,439.6ZM403.8,433.9L411.6,433.9L411.6,440.3L403.8,440.3ZM418.8,453.9L425.2,453.9L426.0,460.4L418.8,460.4ZM387.3,448.9L391.6,448.9L392.3,453.9L397.3,453.9L398.0,459.7L380.9,459.0L380.9,453.9L387.3,453.9ZM368.0,459.0L405.9,460.4L405.6,468.3L398.0,468.3L385.1,467.5L384.4,474.0L378.0,474.0L378.0,467.5L368.0,466.8ZM367.3,474.7L377.3,474.7L377.3,480.7L367.3,480.7ZM384.4,474.7L398.0,475.0L398.0,481.1L384.4,481.1ZM377.3,481.1L383.7,481.1L383.7,494.8L376.6,494.8ZM398.0,488.3L404.5,488.3L404.5,496.2L398.0,496.2ZM371.5,495.5L391.6,495.5L391.6,502.6L404.5,503.3L405.9,511.9L364.4,511.9L365.1,501.9L371.5,501.5ZM405.9,476.1L413.1,479.0L418.8,481.1L420.2,484.7L411.6,485.4L405.9,487.6ZM437.4,461.8L448.0,461.8L448.0,477.6L439.6,477.6L437.4,470.4ZM405.2,491.9L411.6,490.5L414.5,496.2L413.1,501.2L407.3,501.9L404.5,497.6ZM421.7,486.2L428.8,486.9L428.8,493.3L422.4,493.3ZM433.1,487.6L440.3,488.3L439.6,494.0L433.8,494.0ZM327.9,499.0L340.0,499.8L340.0,507.6L325.7,510.5L325.7,511.9L320.0,511.9L320.0,507.6L327.2,506.2ZM320.0,512.0L448.0,512.0L448.0,607.9L320.0,607.9ZM448.0,271.3L463.0,272.0L462.3,281.3L463.8,282.0L471.6,282.0L472.3,289.1L485.9,289.1L486.4,277.0L491.0,278.4L496.7,282.0L500.3,284.1L500.3,302.8L498.1,307.8L498.1,319.9L448.0,319.9L448.0,295.6L459.7,295.3L459.5,279.8L448.0,279.8ZM498.1,307.8L503.8,305.6L503.8,314.9L511.0,314.9L511.0,308.5L515.3,309.2L516.7,312.8L519.6,319.9L498.1,319.9ZM508.1,282.7L523.2,284.9L515.3,291.3L508.1,297.3ZM531.8,309.9L539.6,309.2L541.1,312.1L546.8,312.8L551.1,315.6L550.4,319.9L535.3,319.9L533.9,314.2ZM565.4,309.9L569.7,309.2L569.0,312.1L566.1,313.5ZM448.0,320.0L576.0,320.0L576.0,415.9L448.0,415.9ZM461.6,429.6L470.9,428.9L471.6,445.4L478.8,445.4L479.5,448.9L483.8,449.6L483.8,451.8L478.8,452.5L478.8,469.0L473.1,469.0L472.3,461.8L462.3,462.5L461.6,466.8L455.2,467.5L454.4,474.7L448.0,474.7L448.0,461.8L449.4,460.4L449.4,452.5L455.9,451.8L455.9,446.1L461.6,445.4ZM460.2,419.6L465.9,419.6L466.6,423.2L460.9,423.2ZM486.7,426.7L489.5,423.9L492.4,426.0L491.7,433.2L496.0,437.5L495.3,441.1L491.0,441.8L490.2,443.9L485.9,443.9ZM518.9,416.0L556.8,416.0L557.5,424.6L561.1,427.5L562.5,431.8L558.3,433.2L554.0,437.5L553.2,443.2L548.2,442.5L545.4,443.9L540.4,443.9L539.6,439.6L533.9,439.6L533.9,443.2L531.0,443.9L526.0,441.1L525.3,437.5L526.0,431.8L522.5,430.3L516.7,433.9L513.9,430.3L508.1,428.2L502.4,427.5L502.4,423.9L500.3,423.2L500.3,418.9L506.0,418.1L506.7,423.2L510.3,424.6L511.0,426.7L515.3,425.3L518.2,423.2ZM556.8,416.0L576.0,416.0L576.0,434.6L571.1,433.9L568.3,430.3L562.5,431.8L561.1,427.5L557.5,424.6ZM500.3,445.4L509.6,444.6L510.3,448.2L515.3,449.6L515.3,451.1L508.9,451.8L500.3,450.4ZM509.6,451.1L520.3,451.1L520.3,455.4L522.5,454.7L522.5,449.6L526.8,449.6L527.5,458.2L531.0,458.2L531.0,450.4L533.9,449.6L536.8,451.8L541.8,453.9L537.5,459.0L539.6,465.4L530.3,466.8L504.6,466.8L504.6,460.4L509.6,459.7ZM473.8,469.7L513.1,468.3L530.3,466.8L531.0,471.1L528.2,475.4L521.0,475.4L520.3,469.7L513.1,469.0L512.4,472.6L514.6,473.3L514.6,479.0L505.3,479.7L500.3,479.7L499.5,475.4L494.5,476.1L493.8,480.4L481.6,480.4L480.9,475.4L475.2,476.1L474.5,472.6ZM490.2,482.6L495.3,481.1L496.7,486.2L493.8,489.0L490.2,488.3ZM454.4,490.5L462.3,489.7L463.8,493.3L468.8,494.0L468.0,499.8L473.8,501.9L474.5,507.6L458.7,507.6L458.0,499.0L454.4,498.3ZM475.9,499.0L489.5,497.6L493.8,496.9L497.4,501.9L497.4,506.9L495.3,507.6L496.0,511.9L480.2,511.9L479.5,506.9L475.2,506.2ZM503.8,501.9L509.6,501.2L511.0,507.6L515.3,508.4L516.7,511.9L502.4,511.9L503.1,507.6ZM529.6,483.3L533.9,477.6L538.2,476.1L539.6,479.0L539.6,484.0L542.5,487.6L548.2,490.5L554.0,490.5L554.7,499.0L551.1,499.8L550.4,504.1L543.2,504.1L542.5,500.5L539.6,500.5L539.6,505.5L538.9,511.9L519.6,511.9L522.5,504.8L526.0,496.2L527.5,490.5L525.3,489.0L526.0,484.7ZM518.2,489.0L526.0,489.0L525.3,496.2L522.5,504.1L518.2,501.9L517.4,496.2ZM561.1,476.1L566.8,475.4L571.1,476.9L572.6,481.9L576.0,483.3L576.0,484.7L568.3,487.6L562.5,486.9ZM562.5,451.1L566.1,450.4L568.3,453.9L565.4,456.1L562.5,454.7ZM548.9,461.8L553.2,461.8L554.0,465.4L562.5,464.0L565.4,463.3L566.1,466.8L556.8,467.5L548.9,466.1ZM543.9,467.5L548.2,466.8L548.9,471.8L544.6,472.6ZM556.8,499.8L562.5,500.5L563.3,504.8L557.5,505.5ZM571.1,463.3L576.0,462.5L576.0,471.1L572.6,470.4ZM448.0,512.0L493.8,512.0L491.0,517.7L488.8,524.2L482.4,524.9L482.4,540.6L484.5,545.6L487.4,553.5L486.4,567.8L485.2,575.7L473.8,579.3L448.0,600.8ZM457.3,583.6L462.3,580.7L466.6,586.5L462.3,590.8L458.0,590.0ZM448.0,586.5L450.9,589.3L450.1,593.6L448.0,594.3ZM488.8,551.4L497.4,551.4L497.4,556.4L496.7,565.0L501.3,570.7L501.0,576.4L485.2,576.4L486.4,567.8L487.4,559.3ZM492.4,525.6L505.3,524.9L506.7,528.5L503.1,532.0L503.8,535.6L497.4,537.8L491.0,536.3L494.5,532.0ZM501.7,557.8L506.0,557.1L506.7,561.4L511.7,559.3L513.1,555.0L515.3,550.7L521.0,549.9L521.7,555.0L539.6,555.0L540.4,559.3L546.8,555.0L548.2,547.1L554.7,547.1L556.1,553.5L551.1,554.2L550.4,560.7L548.2,564.3L542.5,567.1L539.6,570.7L543.9,569.3L547.5,569.3L546.8,572.1L542.5,577.1L546.8,577.9L551.1,582.2L549.7,583.6L545.4,580.0L539.6,580.7L536.8,576.4L528.2,572.1L519.6,570.7L516.7,566.4L513.1,563.5L511.0,566.4L506.7,566.4L502.4,563.5ZM513.9,572.1L517.4,572.9L521.7,576.4L519.6,579.3L516.7,579.3L514.6,575.7ZM503.1,512.0L513.9,512.0L514.6,518.4L506.7,519.2L503.1,517.7ZM519.6,512.0L539.6,512.0L540.4,519.2L533.9,523.5L529.6,522.7L528.2,519.2L525.3,520.6L526.0,526.3L533.9,525.6L529.6,530.6L526.0,533.5L525.3,542.8L521.7,541.4L519.6,537.8L520.3,532.0L515.3,531.3L516.0,526.3L519.6,525.6L518.9,519.2ZM532.5,544.2L536.8,542.8L542.5,542.8L543.2,547.1L548.2,547.1L546.8,555.0L540.4,559.3L539.6,555.0L540.4,548.5L532.5,547.8ZM545.4,512.0L555.4,512.0L554.7,522.0L548.2,522.7L543.2,523.5L543.9,517.7ZM558.3,522.0L562.5,519.9L572.6,520.6L576.0,524.9L576.0,538.5L569.7,537.8L566.8,534.9L562.5,535.6L561.1,529.2ZM576.0,309.9L583.2,309.2L581.7,313.5L582.4,317.1L586.0,319.9L576.0,319.9ZM678.4,319.9L684.1,311.3L689.8,307.8L694.1,319.9ZM576.0,320.0L704.0,320.0L704.0,415.9L576.0,415.9ZM576.0,416.0L607.5,416.0L606.8,420.3L608.9,425.3L604.6,428.2L599.6,428.2L596.0,424.6L590.3,423.9L590.3,420.3L584.6,421.7L581.7,430.3L576.0,433.2ZM654.0,416.0L660.5,416.0L659.8,421.0L656.2,421.7L653.3,420.3ZM664.8,416.0L694.1,416.0L696.3,421.7L697.7,430.3L690.5,433.2L686.3,430.3L682.0,431.8L674.8,436.0L671.9,434.6L674.8,427.5L676.2,421.7L673.4,417.4L669.1,418.9L665.5,421.7ZM684.8,440.3L690.5,438.9L697.7,437.5L704.0,437.5L704.0,444.6L697.7,443.2L690.5,443.9L686.3,445.4ZM667.6,438.9L671.9,439.6L671.2,444.6L667.6,445.4L666.2,442.5ZM653.3,448.2L657.6,448.2L657.6,451.8L654.0,451.8ZM661.2,451.1L665.5,451.1L665.5,455.4L661.6,455.4ZM689.1,448.2L694.8,446.8L697.7,450.4L696.3,455.4L690.5,455.4ZM674.8,453.2L679.1,453.9L676.2,460.4L673.4,464.7L669.8,464.0L671.2,459.0ZM679.8,459.7L684.1,458.2L685.5,461.8L681.2,463.3ZM689.1,468.3L694.1,467.5L695.6,471.8L689.8,472.6ZM697.7,464.7L702.7,463.3L702.0,468.3L698.4,469.0ZM639.7,463.3L646.2,462.5L649.0,466.1L653.3,469.0L659.0,468.3L664.8,467.5L669.1,473.3L666.2,477.6L661.9,479.0L656.2,479.7L651.9,480.4L647.6,477.6L644.7,471.8L640.4,466.1ZM648.3,481.1L653.3,480.4L658.3,487.6L660.5,490.5L656.2,492.6L651.9,489.0L649.0,484.7ZM666.2,483.3L673.4,484.7L679.1,490.5L676.2,496.2L673.4,504.8L667.6,503.3L669.1,496.2L670.5,490.5L666.9,487.6ZM617.5,483.3L627.5,478.3L632.6,483.3L634.7,486.9L639.0,490.5L636.1,494.8L639.0,498.3L633.3,500.5L630.4,496.2L624.7,493.3L621.8,487.6ZM616.1,474.7L620.4,477.6L624.7,476.1L629.0,474.7L627.5,478.3L621.8,480.4L617.5,479.0ZM576.0,461.8L581.7,462.5L582.4,467.5L578.9,468.3L578.1,473.3L581.7,474.7L581.0,480.4L576.0,481.9ZM591.8,461.8L596.0,461.1L595.3,464.7L594.6,468.3L596.8,471.8L593.9,474.7L590.3,472.6L591.8,467.5ZM584.6,467.5L589.6,468.3L588.9,473.3L584.6,474.0ZM576.0,495.5L583.2,494.8L588.2,491.9L589.6,487.6L591.8,493.3L593.2,501.9L595.3,511.9L589.6,511.9L588.9,504.8L581.7,501.9L576.0,500.5ZM597.5,500.5L604.6,498.3L608.9,496.2L611.8,500.5L616.1,501.9L614.7,507.6L610.4,509.1L607.5,511.9L596.0,511.9L598.9,506.2ZM623.3,496.2L630.4,499.0L633.3,504.8L639.0,507.6L640.4,511.9L617.5,511.9L620.4,507.6L624.7,504.8ZM641.9,507.6L647.6,500.5L653.3,499.0L659.0,496.2L661.9,493.3L660.5,500.5L654.8,507.6L649.0,511.9L640.4,511.9ZM608.2,476.9L611.8,476.1L612.5,479.7L608.6,480.1ZM606.8,512.0L647.6,512.0L649.0,516.3L660.5,518.4L655.5,526.3L652.6,533.5L646.2,536.3L639.0,533.5L634.0,530.6L631.8,529.2L626.1,532.0L619.0,526.3L614.7,524.9L610.4,523.5L608.9,519.2ZM580.3,517.7L586.0,512.0L606.8,512.0L606.1,517.7L597.5,519.2L598.9,526.3L594.6,527.8L591.8,529.9L587.5,527.8L581.7,525.6ZM603.9,544.9L608.2,544.2L611.1,542.1L613.9,540.6L621.8,541.4L620.4,545.6L619.7,551.4L611.8,551.4L611.1,547.1L606.8,547.1L606.1,552.1L603.9,550.7ZM605.4,552.8L626.8,552.1L627.5,556.4L625.4,560.7L626.8,567.1L619.0,562.1L613.2,562.8L606.8,566.4L603.2,569.3L603.2,562.1L604.6,556.4ZM649.0,556.4L651.9,555.0L656.2,562.1L653.3,564.3L652.6,568.6L646.2,566.4L645.4,562.8L649.0,561.4ZM661.9,575.7L666.2,575.7L669.8,580.7L675.5,592.2L679.8,599.3L682.0,607.9L661.9,607.9L663.3,603.6L666.2,599.3L661.9,595.0L660.5,589.3L657.6,585.7L655.5,583.6L661.9,582.9L663.3,579.3ZM641.1,597.9L644.7,596.5L649.7,596.2L650.5,600.1L647.6,602.9L643.3,601.5ZM576.0,530.6L577.4,530.6L577.4,535.6L576.0,535.6ZM646.0,605.3L683.1,605.3L683.1,634.4L646.0,634.4ZM658.3,636.0L670.6,636.0L670.6,643.6L658.3,643.6ZM742.6,626.8L777.8,626.8L777.8,639.0L742.6,639.0ZM705.4,306.3L709.7,304.2L712.6,304.2L714.0,307.0L717.6,307.8L721.2,305.3L722.3,309.9L720.5,314.9L717.6,314.2L716.2,310.6L713.3,311.3L711.2,309.2L706.9,309.2ZM704.0,326.4L709.7,325.7L712.6,330.0L713.3,339.3L717.6,338.6L726.9,336.5L729.1,330.0L734.1,328.6L739.8,327.2L761.3,341.5L755.5,352.9L736.9,367.3L718.3,377.3L716.9,387.3L714.0,400.2L709.7,403.8L709.7,415.9L704.0,415.9ZM704.0,416.0L707.6,416.0L708.3,421.7L706.1,428.9L704.0,430.3ZM704.0,440.3L706.1,441.8L709.7,449.6L710.4,456.1L708.3,458.2L706.9,451.8L704.0,451.1ZM577.5,315.5L581.5,315.1L584.4,318.6L584.4,323.6L579.4,325.1L574.4,324.4L572.9,322.9L575.1,317.2ZM565.8,309.3L583.0,308.6L583.0,312.9L575.8,311.5L572.2,312.5L566.5,312.9ZM712.4,361.3L739.0,361.3L739.0,377.5L712.4,377.5Z"/>
<path fill="#ffff9b" d="M156.4,262.9L162.8,263.4L163.1,269.8L158.5,271.3L154.2,271.0ZM165.2,280.1L171.1,279.6L171.4,285.6L165.9,285.9ZM131.3,416.0L139.9,416.0L138.5,419.6L134.2,420.6ZM142.0,416.0L161.4,416.0L155.6,420.3L154.2,426.0L161.4,427.5L171.4,420.3L174.3,418.9L177.1,424.6L178.5,431.0L170.0,432.5L162.8,433.2L157.1,436.0L153.5,439.6L149.2,434.6L149.9,430.3L147.8,426.7L144.2,421.7ZM183.6,416.0L192.0,416.0L192.0,430.3L187.1,423.2ZM222.8,287.0L227.8,287.0L227.8,293.7L223.2,293.0ZM325.0,351.5L353.6,354.4L353.6,363.0L354.4,367.3L348.6,368.0L345.8,371.5L340.0,368.7L323.6,368.0ZM353.6,343.6L364.4,344.3L363.7,354.4L354.4,354.4ZM334.3,429.6L345.8,430.3L346.5,436.0L335.8,436.0ZM357.2,433.9L363.7,433.9L363.7,440.3L357.2,440.3ZM339.3,512.0L355.1,512.0L353.6,519.2L352.9,537.1L338.6,536.3L338.6,527.8L332.2,527.0L333.6,518.4L339.3,517.7ZM320.0,534.2L338.6,535.6L348.6,537.8L346.5,550.7L335.8,556.4L334.3,557.1L324.3,548.5L320.0,544.9ZM364.4,512.0L369.4,512.0L369.4,516.0L364.4,516.0ZM370.1,517.0L381.6,517.4L381.9,523.5L378.7,523.7L378.7,537.8L378.0,544.2L372.3,543.8L373.0,530.6L373.7,523.5L370.1,523.2ZM394.5,524.9L400.2,525.2L400.5,532.0L400.2,538.5L387.3,538.1L387.3,532.0L394.2,531.8ZM403.8,512.0L410.2,512.0L410.5,517.7L404.2,518.0ZM410.2,512.0L436.0,512.0L436.0,518.4L430.3,518.9L430.0,524.9L410.2,524.9ZM408.1,525.6L413.8,525.6L414.2,532.0L408.3,532.0ZM422.4,525.6L441.7,526.3L441.4,533.5L433.1,537.8L428.8,542.1L425.2,540.6L423.1,536.3L422.4,532.0ZM405.9,539.9L411.6,539.2L417.4,539.9L418.8,544.2L415.9,548.5L410.2,549.5L405.9,547.1ZM400.2,547.5L406.6,547.5L406.6,554.2L400.5,554.2ZM377.3,566.4L391.6,567.1L403.8,567.6L403.8,570.7L400.9,571.4L400.2,577.1L391.6,577.6L390.2,582.9L383.0,577.1L377.3,574.3ZM410.9,565.0L419.5,565.3L419.9,570.0L423.1,572.9L428.8,576.4L433.1,579.3L438.8,577.1L437.4,582.2L433.1,586.5L428.8,585.0L425.2,589.3L420.2,585.0L417.4,580.7L417.4,575.0L406.6,574.3L406.2,571.0L410.9,570.4ZM398.8,586.5L407.6,586.7L408.1,607.9L403.0,607.9L400.2,602.2L399.0,596.5ZM416.6,594.3L422.4,594.3L423.1,603.6L416.6,603.4ZM424.5,592.2L428.8,592.9L433.1,600.8L434.5,605.1L438.8,607.9L423.8,607.9L423.4,597.9ZM431.7,591.5L436.0,590.0L438.8,594.3L435.3,597.9L432.4,595.8ZM443.1,594.3L448.0,592.9L448.0,597.9L441.7,602.9L441.0,597.9ZM444.6,575.0L448.0,573.6L448.0,582.2L445.3,581.4ZM454.4,295.6L460.2,295.6L460.2,300.6L455.2,300.6ZM464.5,313.5L473.1,313.5L473.8,315.6L481.6,314.9L483.1,319.9L464.5,319.9ZM464.5,320.0L486.7,320.0L487.4,326.4L476.6,327.2L473.8,334.3L469.5,335.0L469.5,338.6L470.9,342.9L461.6,337.9L465.2,335.8L465.2,328.6L463.8,325.7ZM511.7,328.6L521.0,327.9L521.7,324.3L527.5,324.3L528.2,330.7L530.3,331.5L529.6,337.2L525.3,337.9L525.3,343.6L519.6,344.3L518.9,341.5L512.4,341.5ZM533.2,330.7L538.2,330.3L538.5,334.0L533.6,334.3ZM499.5,341.5L504.6,340.8L505.3,347.9L508.1,352.2L508.9,357.2L489.5,357.5L488.8,352.9L485.2,352.6L484.9,347.5L492.4,347.9L493.1,352.2L497.4,351.8L499.5,347.2ZM448.0,347.9L454.4,347.9L454.4,357.9L448.0,358.4ZM448.0,358.9L462.3,359.4L462.3,363.0L450.1,363.0L448.0,367.3ZM473.1,358.9L488.8,358.7L489.5,372.3L483.8,372.3L483.5,368.0L473.1,367.7ZM494.5,357.9L499.5,357.9L499.8,362.2L495.0,362.2ZM448.0,371.5L450.9,374.4L453.7,384.4L456.6,394.5L458.7,405.2L456.6,405.9L450.1,405.9L450.1,410.2L459.5,410.9L461.6,415.9L448.0,415.9ZM476.6,379.4L481.6,379.0L482.1,384.4L485.9,385.1L486.4,394.5L489.5,395.2L489.5,403.8L484.5,403.8L483.8,395.2L481.6,394.5L481.2,390.2L475.9,389.9ZM498.4,377.3L513.9,376.6L514.2,384.4L520.3,385.1L521.0,387.3L516.0,388.7L511.0,390.2L513.9,394.5L511.0,395.9L503.1,394.5L502.4,389.4L498.8,388.7ZM516.7,395.9L521.0,395.2L521.7,398.0L526.0,397.3L531.0,394.5L536.8,395.2L533.9,400.2L532.5,405.9L535.3,411.6L541.1,415.9L526.8,415.9L525.3,410.9L521.7,409.5L521.0,402.3L517.4,401.6ZM545.4,401.6L546.8,396.6L550.4,397.3L550.8,403.0L554.7,403.8L554.7,415.9L546.1,415.9ZM556.1,398.0L561.1,397.3L562.5,394.5L566.8,395.2L569.7,401.6L571.1,405.9L568.3,411.6L562.5,411.6L561.1,405.9L556.8,404.5ZM562.5,341.5L565.4,334.3L569.7,325.7L574.7,323.6L574.7,331.5L569.7,333.6L568.3,341.5L567.6,347.2L562.5,347.9ZM562.5,347.9L574.0,347.9L572.6,358.7L567.1,360.1L563.7,348.6ZM566.8,370.1L576.0,368.7L576.0,380.1L562.5,380.9ZM476.6,413.1L483.1,412.4L483.8,415.9L476.6,415.9ZM531.0,418.9L533.9,416.0L538.9,418.9L538.9,426.0L531.8,426.7ZM543.2,428.2L548.2,427.5L548.9,432.5L543.6,432.9ZM562.5,418.9L571.1,418.1L571.9,426.0L563.3,426.7ZM464.5,512.0L480.9,512.0L480.9,520.6L470.2,520.6L469.5,527.8L466.6,526.3L464.5,518.4ZM470.9,527.8L482.1,524.9L482.4,540.6L471.6,539.9ZM453.0,542.1L458.0,546.4L454.4,550.4L449.4,546.4ZM469.5,549.9L473.8,550.7L480.2,555.0L474.5,559.3L473.8,570.7L484.5,576.4L473.1,578.6L466.6,587.2L462.3,580.7L457.3,583.6L458.0,590.0L452.3,597.2L448.0,599.3L448.0,575.0L454.4,569.3L457.3,567.8L458.0,557.8L465.2,555.0ZM584.6,320.0L593.9,320.0L597.5,327.2L598.2,334.3L595.3,341.5L592.5,346.5L588.9,341.5L590.3,334.3L585.3,333.6ZM576.0,325.7L578.9,326.4L579.6,335.0L576.0,335.8ZM576.0,347.2L578.9,347.2L579.6,351.5L586.7,352.2L587.5,356.5L592.5,356.5L593.2,361.5L591.0,363.0L590.3,367.3L586.7,368.0L586.0,372.3L578.9,373.0L576.0,373.7ZM592.5,367.3L598.2,366.5L598.9,371.5L602.5,371.5L603.2,375.8L597.5,376.6L596.8,371.5L592.5,371.5ZM590.3,378.7L597.5,378.0L601.8,378.7L602.5,385.1L597.5,385.9L596.8,381.6L590.3,381.6ZM587.5,390.9L591.8,390.9L591.8,395.2L587.5,395.2ZM611.8,386.6L617.5,385.9L618.2,394.5L616.8,398.0L619.0,403.0L621.8,405.9L621.1,408.8L617.5,408.1L614.7,403.0L613.9,397.3L612.5,391.6ZM606.1,397.3L611.8,396.6L613.2,403.0L612.5,411.6L604.6,412.4L603.9,405.9L598.2,406.6L597.5,401.6L603.9,400.9L606.1,400.9ZM578.9,398.0L582.4,398.0L583.2,402.3L587.5,402.3L587.7,406.6L579.6,405.9ZM635.4,370.1L644.7,368.7L645.4,372.3L641.1,375.1L636.1,375.1ZM651.9,374.4L654.8,370.1L659.8,370.1L661.9,374.4L665.5,375.8L671.9,376.6L673.4,380.1L667.6,383.0L660.5,383.0L656.9,382.3L656.2,378.7L651.9,378.7ZM665.5,353.6L667.6,345.1L673.4,338.6L681.2,331.5L683.4,335.8L682.7,344.3L679.1,350.8L682.7,354.4L686.3,352.2L692.0,354.4L692.7,363.0L690.5,367.3L692.0,372.3L687.7,374.4L682.7,373.7L680.5,368.7L676.2,364.4L676.2,360.1L667.6,360.8L665.5,358.7ZM638.3,391.6L641.9,392.3L646.2,395.9L653.3,395.2L654.0,400.2L649.0,401.6L646.9,405.2L643.3,404.5L639.7,401.6ZM666.2,391.6L671.9,389.4L675.5,393.0L674.8,397.3L669.1,398.0L666.2,397.3ZM657.6,403.0L664.8,401.6L666.2,405.9L664.8,411.6L660.5,413.1L656.2,410.2ZM696.3,335.0L702.7,335.0L703.4,340.8L697.0,341.5ZM694.8,320.0L704.0,320.0L704.0,325.0L697.7,324.3ZM699.1,391.6L704.0,389.4L704.0,398.0L700.6,397.3ZM606.1,411.6L613.2,411.6L613.9,415.9L606.8,415.9ZM596.8,438.9L601.1,439.6L601.8,443.9L597.5,444.6ZM604.6,426.0L607.5,430.3L605.4,432.5L602.5,429.6ZM646.2,423.2L650.5,418.9L651.9,424.6L648.3,428.9ZM634.7,524.2L637.6,523.5L637.9,528.5L635.0,528.9ZM639.7,524.2L643.3,524.9L642.6,527.0L640.1,526.3ZM646.2,532.8L651.9,532.0L652.6,536.3L646.9,537.1ZM704.0,341.5L709.0,337.2L713.3,337.9L714.0,341.5L709.7,345.1L704.0,346.5ZM718.3,342.9L726.2,341.5L726.9,345.1L719.8,346.5ZM704.0,387.3L706.1,383.7L709.7,385.9L712.6,391.6L711.9,400.2L709.0,403.0L704.0,402.8ZM584.7,318.6L593.7,320.8L596.6,325.8L597.3,333.0L595.1,340.1L591.8,344.7L589.4,343.0L587.3,337.3L585.1,333.0L584.4,324.4ZM572.6,323.2L574.4,325.1L578.7,325.8L579.4,335.8L569.4,336.5L568.6,328.7ZM563.6,334.4L569.4,336.5L569.4,347.3L562.9,348.0L562.2,345.1Z"/>
<path fill="#fb8d5a" d="M171.1,258.1L173.5,257.2L175.4,259.8L178.8,260.9L184.6,264.4L184.0,269.5L178.5,269.2L174.0,266.1L171.4,262.4ZM190.7,253.4L192.0,252.6L192.0,261.2L190.7,260.5ZM132.7,320.0L140.6,320.0L139.9,324.3L137.7,327.9L137.7,334.3L131.3,333.6L131.3,328.6ZM130.6,335.0L138.5,336.5L137.0,342.9L134.9,344.3L131.3,342.9ZM137.7,350.8L141.3,352.2L147.8,350.1L145.6,355.8L142.0,360.8L137.7,363.0L137.0,368.7L132.0,367.3L134.2,358.7L135.6,353.6ZM125.6,366.5L137.0,368.7L136.3,375.1L133.4,378.7L132.7,385.1L127.0,386.2L122.7,383.0L123.4,375.8ZM174.3,320.0L192.0,320.0L192.0,350.1L179.3,347.9L178.5,359.4L161.4,355.1L162.8,344.3L171.4,344.3L172.1,333.6L168.5,330.7L170.7,324.3ZM153.5,398.8L157.1,398.0L161.4,399.5L164.2,398.8L164.9,401.6L158.5,402.3L153.5,402.3ZM157.1,409.5L164.2,403.0L168.5,405.9L171.4,411.6L172.1,415.9L158.5,415.9L156.4,411.6ZM159.2,416.0L172.8,416.0L173.5,419.6L170.7,422.4L168.5,426.7L161.4,427.5L155.6,426.3L154.2,422.4L158.5,419.6ZM162.8,433.2L171.4,431.8L178.5,431.0L180.0,440.3L179.3,448.2L184.3,449.6L181.4,464.7L172.8,462.5L164.2,461.1L159.2,458.2L155.6,450.4L152.8,443.9L153.5,439.6L157.1,436.0ZM236.3,611.7L240.7,612.8L243.0,617.3L246.3,616.1L249.7,618.4L249.7,622.8L245.2,626.2L241.9,625.1L238.5,619.5L235.1,617.3ZM198.4,238.3L218.5,243.8L215.6,254.8L212.0,259.8L208.5,261.2L200.6,266.2L197.7,265.5L192.0,261.9L192.0,252.6L194.1,251.9L194.9,246.9L199.2,244.0ZM261.4,253.8L277.9,257.2L286.5,259.1L285.8,265.5L281.5,265.5L275.0,267.0L276.5,272.7L273.6,276.3L269.3,277.0L266.5,269.5L259.3,270.5L255.0,267.7L257.9,261.9L260.7,259.8ZM296.5,260.1L320.0,262.7L320.0,281.3L310.8,282.0L305.1,285.6L298.7,285.6L297.2,279.1L292.2,279.1L295.1,271.3L295.8,267.0ZM286.5,280.6L292.2,279.1L297.2,279.1L298.7,285.6L298.0,292.7L292.2,290.6L287.9,290.6L284.4,285.6ZM193.4,303.5L200.6,303.5L209.9,307.8L207.8,312.8L205.6,319.9L192.0,319.9L192.0,315.6L193.4,309.9ZM265.7,302.8L272.2,299.2L275.8,302.8L276.5,307.0L273.6,308.5L270.0,305.6ZM298.7,319.9L300.8,315.6L306.5,309.9L313.7,307.8L320.0,306.3L320.0,313.5L315.1,315.6L310.8,319.9ZM192.0,320.0L207.0,320.0L200.6,352.2L192.0,350.1ZM239.3,342.2L258.6,345.1L257.9,354.4L260.0,355.8L259.3,364.4L236.4,360.1L237.8,352.9ZM300.8,400.9L320.0,402.3L320.0,407.3L313.7,409.5L300.1,408.8ZM299.4,413.8L310.8,414.5L310.8,415.9L299.4,415.9ZM298.7,416.0L320.0,416.0L316.6,418.9L310.8,421.0L306.5,423.2L305.1,427.5L298.0,428.2ZM292.2,466.8L312.3,469.0L311.6,479.7L297.2,479.0L296.5,483.3L290.1,482.6ZM219.2,484.0L232.8,484.4L229.9,496.2L229.2,511.9L212.0,511.9L209.2,507.6L213.5,501.9L212.8,497.6L215.6,494.0L217.8,486.2ZM213.5,512.0L227.1,512.0L227.1,519.9ZM416.6,607.9L423.3,607.9L423.8,612.4L421.5,622.4L417.1,621.3L416.0,612.4ZM427.1,610.1L435.0,611.3L435.0,625.8L428.3,626.9L427.1,616.8ZM411.5,623.6L421.5,622.4L427.1,626.9L428.3,634.1L419.3,631.2L412.2,626.7ZM320.0,261.9L326.9,262.9L325.0,278.4L320.0,279.8ZM338.6,265.1L350.1,266.5L350.8,274.1L360.8,274.1L364.4,277.7L370.1,274.1L369.8,284.1L368.7,294.9L368.0,304.2L365.8,305.6L363.0,302.0L358.7,299.9L355.8,294.2L350.8,295.6L346.5,294.9L345.8,287.0L347.9,282.7L342.9,282.0L334.3,285.6L335.8,278.4L337.9,271.3ZM369.4,294.9L378.7,295.6L379.4,289.9L385.1,289.1L388.7,292.7L389.4,306.3L380.1,306.8L369.4,306.3ZM327.9,298.5L346.5,299.2L345.8,304.2L352.9,303.5L357.9,305.6L358.7,312.8L357.2,319.9L337.2,319.9L336.5,312.8L334.3,305.6L328.6,302.0ZM320.0,308.5L325.7,304.9L330.0,309.9L322.9,314.2L320.0,315.6ZM357.9,312.8L363.0,315.6L366.5,319.9L357.2,319.9ZM414.5,282.0L418.8,281.3L422.4,282.0L424.5,279.1L431.0,279.1L428.8,287.0L428.1,293.4L420.9,293.9L420.2,291.3L414.5,289.1ZM444.6,285.6L448.0,285.6L448.0,292.7L446.0,291.3ZM337.2,320.0L342.9,320.0L341.5,325.7L336.5,325.4ZM356.5,320.0L367.3,320.0L365.8,331.2L355.1,330.0ZM389.4,320.0L414.5,320.0L415.2,330.0L425.2,330.7L425.2,336.0L414.5,335.8L407.3,335.8L405.2,336.5L398.8,337.2L395.2,332.2L395.2,326.4L389.4,325.7ZM376.6,353.6L385.9,352.9L385.9,358.7L395.2,359.4L395.9,364.4L385.9,364.4L375.8,363.0ZM354.4,355.1L363.7,355.1L363.0,363.0L385.9,365.1L385.9,378.7L398.8,379.4L399.5,385.1L405.9,390.2L405.9,397.3L418.8,398.0L418.8,391.6L423.1,392.3L422.4,413.1L417.4,413.1L417.4,408.1L411.6,407.3L411.6,403.0L398.8,402.3L384.4,400.9L384.4,391.6L377.3,391.6L369.4,387.3L368.7,383.7L362.2,383.0L361.5,384.4L354.4,383.7L347.9,382.3L348.6,368.0L354.4,367.3ZM365.8,395.2L376.6,395.9L376.6,403.0L365.8,402.3ZM320.0,403.0L323.6,403.0L322.9,405.9L320.0,406.6ZM320.0,417.4L328.6,416.0L329.3,418.9L325.7,422.4L320.0,420.3ZM355.8,458.2L367.3,458.7L367.3,466.8L365.8,478.3L363.0,477.6L362.2,470.4L355.1,469.7ZM412.4,420.3L418.8,420.3L418.8,426.7L412.4,426.7ZM412.4,434.3L424.5,434.6L425.2,441.8L418.8,442.1L418.5,448.9L412.4,448.2ZM438.8,428.9L443.1,428.2L443.9,421.7L448.0,421.0L448.0,437.5L444.6,437.5L439.6,436.0ZM398.5,468.7L404.5,468.7L404.8,475.4L398.5,475.0ZM365.8,488.3L375.8,488.3L375.8,494.8L371.5,495.0L371.3,501.2L365.5,501.2ZM427.4,475.4L433.8,475.4L434.1,481.6L427.7,481.6ZM434.5,482.2L440.3,482.2L441.0,486.9L445.3,486.9L445.3,494.0L441.0,494.5L440.6,487.6L434.5,487.3ZM413.1,491.2L420.9,491.9L421.7,496.2L428.8,496.2L428.8,499.8L434.5,499.0L436.7,501.9L441.7,504.1L443.1,510.5L438.8,511.9L417.4,511.9L413.8,504.8L415.9,500.5L413.8,496.2ZM350.8,537.5L357.5,538.1L357.5,542.8L354.4,543.2ZM426.7,548.5L431.7,546.4L434.5,549.9L438.8,553.5L444.6,556.4L446.7,559.3L446.0,562.8L441.7,565.0L438.1,560.0L433.1,558.5L429.5,555.0L423.1,555.7L421.7,552.8ZM444.6,539.2L448.0,538.5L448.0,544.2L445.3,543.8ZM391.3,577.6L398.8,577.9L398.8,586.5L398.5,596.5L397.3,600.1L394.5,592.2L390.9,583.6ZM408.5,577.9L416.2,578.2L416.6,585.0L420.2,585.3L425.2,590.0L423.1,594.3L416.6,594.3L416.2,602.2L408.8,602.5ZM426.7,587.9L431.0,585.7L433.1,590.0L430.3,592.9L427.4,592.2ZM428.1,593.6L431.7,594.3L436.0,598.6L434.5,601.5L430.3,599.3ZM416.6,603.6L423.1,603.6L423.4,607.9L416.6,607.9ZM437.4,512.0L441.7,512.0L441.0,513.7L438.1,513.7ZM448.0,285.6L450.1,285.6L450.9,291.3L457.3,291.3L458.7,289.1L459.7,295.3L448.0,295.6ZM515.3,309.2L522.5,305.6L531.8,300.6L531.8,309.9L533.9,314.2L535.3,319.9L519.6,319.9L516.7,312.8ZM565.4,302.8L571.1,301.3L571.9,308.5L566.1,309.2ZM498.1,325.0L513.9,324.0L513.9,327.9L505.3,328.9L498.1,330.0ZM521.0,320.0L538.9,320.0L538.9,325.0L532.5,325.7L531.8,324.0L521.7,324.0ZM493.8,343.6L498.1,342.9L501.0,346.5L499.5,352.2L493.1,352.2ZM462.3,359.4L467.3,358.9L467.8,363.0L473.1,363.0L473.1,367.7L462.3,368.0ZM543.9,365.5L548.9,365.1L549.4,370.4L544.2,370.8ZM562.5,342.9L567.6,342.6L567.6,347.9L562.8,348.2ZM458.7,405.2L486.7,404.5L486.9,414.5L478.1,412.4L466.6,415.9L461.6,415.9L459.5,410.9ZM503.8,409.5L508.9,409.1L509.6,415.9L504.1,415.9ZM463.8,416.0L476.6,416.0L475.9,418.1L471.6,418.9L471.6,421.7L468.0,421.7L466.6,418.1L463.8,418.1ZM465.2,423.2L468.8,423.2L469.5,426.7L471.6,428.2L465.9,429.6ZM477.4,421.7L481.6,421.7L481.6,426.7L477.4,426.7ZM488.1,418.9L494.5,418.9L494.5,423.2L491.7,424.6L488.8,422.4ZM505.3,416.0L510.3,416.0L511.0,418.9L514.6,421.0L518.2,423.2L515.3,425.3L511.0,426.7L510.3,423.2L507.4,422.4ZM536.8,423.9L546.8,423.9L547.1,428.2L542.5,428.2L541.8,429.6L537.1,429.6ZM533.9,440.1L539.4,440.1L539.6,443.9L534.2,443.9ZM521.0,443.9L523.9,443.9L524.6,447.5L526.8,449.6L522.5,449.9L522.5,455.4L520.3,455.4L520.3,451.1L515.3,451.1L516.0,448.9L521.0,448.2ZM545.4,444.4L552.5,443.9L553.2,447.5L546.1,448.2ZM553.2,445.4L556.8,446.8L555.4,450.4L554.7,453.9L556.1,457.5L553.2,459.7L551.1,456.8L548.2,454.7L548.9,451.8L551.8,450.4ZM541.8,449.6L545.4,449.6L545.4,453.2L542.2,453.5ZM569.0,451.1L573.3,450.4L572.6,454.7L569.0,455.4ZM448.0,426.7L450.1,427.5L450.9,437.5L448.0,437.5ZM453.0,480.4L458.0,480.4L458.7,484.0L455.9,487.6L452.3,488.3L448.0,487.6L448.0,484.0L453.0,483.3ZM541.1,472.6L546.8,471.8L547.5,477.6L553.2,476.9L556.1,476.1L556.8,482.6L551.8,483.3L548.2,484.7L547.5,489.7L542.5,489.7L541.8,484.0L543.2,479.7L540.4,477.6ZM568.3,488.3L573.3,487.6L574.0,483.3L576.0,482.6L576.0,494.0L569.7,494.0L567.6,490.5ZM496.7,481.9L503.1,482.6L503.8,486.9L508.1,486.2L511.7,484.7L513.9,489.0L514.6,494.0L518.2,496.2L518.9,501.9L515.3,507.6L511.0,507.6L509.6,501.2L504.6,501.9L502.4,506.2L498.1,506.9L497.4,501.9L493.8,496.9L490.2,495.5L493.8,491.2L496.0,487.6ZM496.0,507.6L501.7,506.9L502.4,511.9L496.7,511.9ZM454.4,529.2L460.2,528.5L461.6,526.3L465.9,526.3L466.6,532.8L468.8,533.5L468.0,538.5L462.3,539.2L454.4,539.9L453.0,543.5L448.0,544.2L448.0,537.8L453.7,535.6ZM488.8,518.4L493.8,518.4L494.5,513.4L497.4,512.0L503.1,512.0L503.1,519.2L494.5,519.9L494.5,524.2L488.8,524.2ZM504.6,536.3L508.9,537.1L509.6,540.6L505.0,540.9ZM515.3,537.1L519.6,536.3L520.3,539.9L517.4,544.9L516.0,549.9L513.9,555.0L512.4,551.4L511.7,546.4ZM518.2,542.8L521.7,542.1L526.0,544.2L526.8,549.2L516.7,549.9L517.4,545.6ZM543.2,524.2L547.9,523.7L548.2,528.5L543.6,528.9ZM556.1,522.0L559.0,522.7L561.1,529.2L559.7,534.9L561.1,540.6L562.5,546.4L562.5,560.7L558.3,562.8L557.5,547.8L556.1,533.5ZM448.0,572.1L452.3,571.4L454.4,578.6L451.6,577.9L448.0,575.0ZM574.0,523.5L576.0,523.2L576.0,525.6ZM601.1,346.5L605.4,345.1L608.6,352.2L610.7,358.7L609.2,363.0L606.8,357.9L603.9,355.8L603.2,350.8ZM583.2,357.2L587.5,357.2L587.5,362.2L585.7,363.0L586.0,368.0L581.0,368.0L581.0,363.0L583.2,362.2ZM601.8,378.4L609.6,379.0L606.8,380.9L602.5,380.9ZM676.2,375.8L681.2,373.0L683.4,377.3L687.0,376.6L690.5,375.1L692.0,377.3L686.3,382.3L682.7,380.1L676.2,383.7L671.9,387.3L670.5,390.9L666.2,391.6L665.5,384.4L669.1,382.3L673.4,380.1ZM631.1,398.8L637.6,397.3L639.7,401.6L643.3,404.5L646.9,405.2L649.0,402.3L654.0,400.9L658.3,401.6L656.2,407.3L653.3,411.6L655.5,415.9L626.1,415.9L625.4,410.2L630.4,406.6ZM619.0,414.5L624.7,414.5L624.7,415.9L619.0,415.9ZM607.5,416.0L614.7,416.0L615.4,420.3L619.0,421.0L619.7,416.0L654.0,416.0L653.3,420.3L656.2,421.7L655.5,430.3L653.3,436.0L661.9,431.8L665.5,435.3L667.6,438.2L665.5,442.5L660.5,442.5L656.2,439.6L652.6,443.2L649.0,449.6L643.3,451.8L639.0,454.7L639.7,459.0L637.6,462.5L639.7,465.4L639.0,469.7L634.7,470.4L632.6,464.7L633.3,459.0L630.4,458.2L624.7,464.7L617.5,469.0L615.4,464.7L614.7,459.7L610.4,464.0L601.8,464.7L601.1,460.4L593.2,460.4L584.6,460.4L578.9,459.0L578.1,453.9L583.2,452.5L590.3,451.1L589.6,444.6L586.7,443.9L587.5,439.6L590.3,438.9L589.6,434.6L594.6,430.3L599.6,428.2L604.6,428.2L608.9,425.3L606.8,420.3ZM666.2,422.4L671.2,423.2L670.5,428.9L666.2,429.6ZM669.1,418.9L672.6,417.4L673.4,421.7L669.8,421.7ZM672.6,440.3L677.7,441.1L678.4,448.2L680.5,448.9L679.8,452.5L676.2,451.8L674.8,447.5L671.2,446.8ZM649.7,453.2L654.8,452.9L655.0,456.8L650.2,457.2ZM692.7,459.0L700.6,457.5L704.0,458.2L704.0,461.8L699.1,462.5L700.6,465.4L697.0,465.4L693.4,463.3ZM676.2,469.0L686.3,469.0L689.1,473.3L689.1,481.9L687.7,488.3L682.0,489.7L679.1,489.0L682.7,483.3L682.0,476.1L677.7,474.7L675.5,471.8ZM667.6,477.6L671.9,475.4L674.8,479.0L673.4,483.3L669.1,483.3L666.9,480.4ZM594.6,464.7L598.2,464.0L601.1,468.3L597.5,470.4L594.6,468.3ZM582.4,463.3L586.0,463.3L586.7,466.8L582.9,467.3ZM576.0,486.2L588.2,486.9L587.5,491.9L583.2,494.8L578.9,494.0L576.0,495.5ZM594.6,486.2L599.6,485.4L600.3,489.7L595.3,490.5ZM591.8,479.0L595.3,479.7L594.6,484.7L591.0,484.7ZM604.6,481.1L610.4,479.7L611.1,482.6L605.4,484.0ZM580.3,444.6L583.2,443.9L583.9,447.5L581.0,448.2ZM576.0,518.4L579.6,519.2L581.0,523.5L576.0,524.9ZM601.1,529.9L605.4,529.2L606.8,533.5L614.7,532.8L617.5,536.3L619.7,538.5L619.0,541.4L613.9,540.6L611.1,542.1L608.2,544.2L603.9,544.9L601.8,545.6L600.3,538.5ZM628.3,533.5L634.0,533.5L639.0,535.6L641.9,539.9L639.7,542.8L644.0,544.2L643.3,549.9L642.6,552.8L641.1,549.2L636.1,548.5L631.1,546.4L629.7,542.1L627.5,538.5ZM646.2,537.1L650.5,536.6L650.7,540.6L646.4,541.4ZM627.3,552.1L637.6,551.4L638.3,557.8L644.7,557.5L645.0,566.4L641.9,568.6L640.4,573.6L636.9,575.0L632.6,573.6L631.1,570.7L626.8,567.1L627.3,560.7ZM641.1,588.6L648.3,587.9L649.7,584.3L654.0,584.3L656.9,587.9L660.5,591.5L662.6,594.3L661.9,597.9L665.5,599.3L661.9,603.6L657.6,599.3L650.5,599.3L649.7,596.2L644.7,596.5L644.0,592.2ZM709.7,322.9L716.2,322.1L717.2,338.6L713.3,339.3L712.3,330.0ZM704.0,457.5L708.3,458.2L708.3,460.4L704.0,462.5Z"/>
</g>
<defs><pattern id="pc" width="37" height="33" patternUnits="userSpaceOnUse" patternTransform="rotate(-7)"><path d="M0,6H37M14,6V33M14,21H37M29,0V6" fill="none" stroke="#3a3a20" stroke-opacity=".3" stroke-width=".55"/></pattern><pattern id="pf" width="9.5" height="9" patternUnits="userSpaceOnUse" patternTransform="rotate(4)"><path d="M0,3H9.5M4,0V3M7.5,3V9" fill="none" stroke="#3a3a20" stroke-opacity=".28" stroke-width=".5"/></pattern></defs>
<g clip-path="url(#land)"><path fill="url(#pc)" d="M60,220H345V680H60Z"/><path fill="url(#pf)" d="M345,220H800V680H345Z"/></g>
<path fill="#fff" d="M572.2,312.5L575.8,311.5L583.0,312.9L580.8,314.6L577.5,315.5L574.4,317.9L572.6,323.2L570.8,325.8L568.6,328.4L564.3,334.4L562.2,345.1L564.1,353.0L567.9,361.6L566.5,370.2L564.6,378.8L561.5,381.9L557.9,383.4L554.3,380.2L551.5,370.2L549.7,358.7L549.3,347.3L550.7,337.3L552.9,330.1L555.8,324.4L557.9,320.8L561.5,318.6L565.8,315.8L569.4,313.6ZM545.0,337.5L548.6,331.5L554.3,323.9L556.0,324.4L551.2,333.0L547.4,338.1ZM594.4,307.2L597.3,290.0L668.0,290.0L668.0,340.8L663.1,341.5L653.1,343.0L647.4,346.6L650.3,351.6L647.4,357.3L640.2,364.5L631.6,370.2L623.0,374.5L617.3,378.8L611.6,380.5L604.4,379.5L602.4,375.9L604.4,370.2L606.6,364.5L610.2,361.6L608.7,353.0L605.9,343.7L602.3,339.8L597.3,342.7L594.1,346.1L591.8,344.7L595.1,340.1L597.3,333.0L596.6,325.8L593.7,320.8L585.8,318.6L581.5,315.1L577.5,315.5L580.8,314.6L583.0,312.8L590.8,311.8L591.8,310.3ZM544.3,290.0L597.3,290.0L594.4,307.2L591.8,310.0L588.7,308.3L584.4,307.6L583.0,302.9L575.1,304.0L573.6,300.0L561.5,302.6L554.3,304.7L547.2,305.5L545.7,303.3L544.3,302.3ZM715.1,368.4L721.3,364.2L730.1,359.2L739.7,354.8L743.1,356.3L739.3,358.9L736.9,362.5L730.9,363.4L724.2,365.7L716.1,370.1ZM703.6,397.4L706.5,400.8L710.2,401.1L709.5,402.9L703.6,403.3L702.1,399.6L700.6,396.0ZM693.0,396.0L694.5,396.4L693.6,402.6L695.0,408.5L697.4,415.9L699.5,423.2L700.6,428.4L698.9,428.4L697.4,423.2L695.5,416.6L693.3,409.2L691.8,402.6Z"/>
<path fill="#19aa80" d="M745.1,630.2L751.8,628.9L765.2,629.5L769.4,631.9L768.6,635.2L766.0,637.8L751.8,638.3L745.9,637.2L744.2,633.6Z"/>
<g stroke="#222" stroke-width="1" fill="none">
<path d="M715.5,317.5L757.7,310.6"/>
<path d="M730.1,321.0L757.7,324.9"/>
<path d="M732.4,342.8L757.7,338.2"/>
<path d="M738.7,351.1L760.6,354.9"/>
<path d="M724.1,355.4L753.7,369.7"/>
<path d="M710.3,382.9L745.1,382.9"/>
<path d="M702.6,403.6L729.6,403.6"/>
<path d="M688.0,406.0L725.8,414.8"/>
<path d="M683.0,409.0L708.6,425.4"/>
<path d="M75.2,505.5L85.3,500.0"/>
<path d="M75.2,525.3L82.6,525.5"/>
<path d="M764.9,616.4L756.0,633.6"/>
<path d="M788.7,629.9L780.6,637.8"/>
</g>
<g stroke="#777" stroke-width="0.9" fill="none" stroke-linecap="round">
<path d="M89.5,480.2L91.3,476"/><path d="M82.6,493.1L83.9,491.9"/><path d="M71.5,528L76.1,524.3"/><path d="M74.5,506.8L77,504.3"/>
<path d="M758.8,630.8L760.8,631.2"/><path d="M779.5,640.7L782.5,641.5"/>
</g>
<g font-family="'Liberation Sans',sans-serif" font-size="10.3" fill="#222">
<text x="761.6" y="313.7">VT</text>
<text x="761.6" y="327.8">NH</text>
<text x="761.1" y="342.1">MA</text>
<text x="765.1" y="356.6">RI</text>
<text x="757.7" y="371.7">CT</text>
<text x="749.1" y="385.8">NJ</text>
<text x="733.6" y="406.7">DE</text>
<text x="730.1" y="416.8">MD</text>
<text x="713.3" y="428.5">DC</text>
<text x="88.8" y="502.6">GU</text>
<text x="86.9" y="528.5">AS</text>
<text x="768.9" y="619.6">PR</text>
<text x="793.4" y="631.9">VI</text>
</g>
<g stroke="#1b5eb0" stroke-width="1.25" fill="none" stroke-linecap="round" stroke-linejoin="round">
<path d="M810.53,639.45L811.42,635.24L814.11,631.21L818.58,627.19L822.16,624.50L824.40,622.26"/>
<path d="M814.82,642.13L814.11,636.58L817.24,632.11L821.71,628.08L825.92,624.50"/>
<path d="M817.51,643.02L816.79,637.92L819.92,633.90L823.95,630.77L826.46,629.42"/>
<path d="M802.03,642.85L804.71,641.23L807.84,640.34L810.71,639.80"/>
<path d="M802.30,643.02L805.16,643.47L809.63,644.46L812.32,645.98"/>
<path d="M803.37,643.92L809.63,646.25L815.00,647.77L818.58,646.60L820.37,644.81"/>
<path d="M814.82,648.04L813.03,650.72L812.50,652.87L814.64,652.69L815.90,650.18L817.87,647.14"/>
<path d="M817.24,650.18L819.30,650.54"/>
<path d="M821.09,642.49L828.87,642.49"/>
<path d="M823.50,643.92L826.81,644.10"/>
</g>
<rect x="835.1" y="627.5" width="34.8" height="20.7" fill="#1a62b5"/>
<g stroke="#6fa0d8" stroke-width="0.35">
<path d="M835.1,648.2L842.0,627.5"/>
<path d="M836.3,648.2L845.4,627.5"/>
<path d="M837.5,648.2L848.8,627.5"/>
<path d="M838.7,648.2L852.2,627.5"/>
<path d="M839.9,648.2L855.6,627.5"/>
<path d="M841.1,648.2L859.0,627.5"/>
<path d="M842.3,648.2L862.4,627.5"/>
<path d="M843.5,648.2L865.8,627.5"/>
<path d="M844.7,648.2L869.2,627.5"/>
</g>
<text x="836.8" y="642" font-family="'Liberation Serif',serif" font-weight="700" font-size="16.5" fill="#fff" textLength="31.4" lengthAdjust="spacingAndGlyphs">CDC</text>
</svg>
<div class="legend">
<div class="t">Legend</div>
<span class="dot" style="left:14.2px;top:57.7px;background:#fb8d5a;border-color:#b9582f"></span><span class="li" style="left:33px;top:57.4px">High</span>
<span class="dot" style="left:14.2px;top:92.2px;background:#04c995;border-color:#078f6b"></span><span class="li" style="left:33px;top:91.6px">Low</span>
<span class="dot" style="left:451.7px;top:57.7px;background:#ffff9b;border-color:#b4b362"></span><span class="li" style="left:470.2px;top:57.4px">Medium</span>
</div>
</body></html>
